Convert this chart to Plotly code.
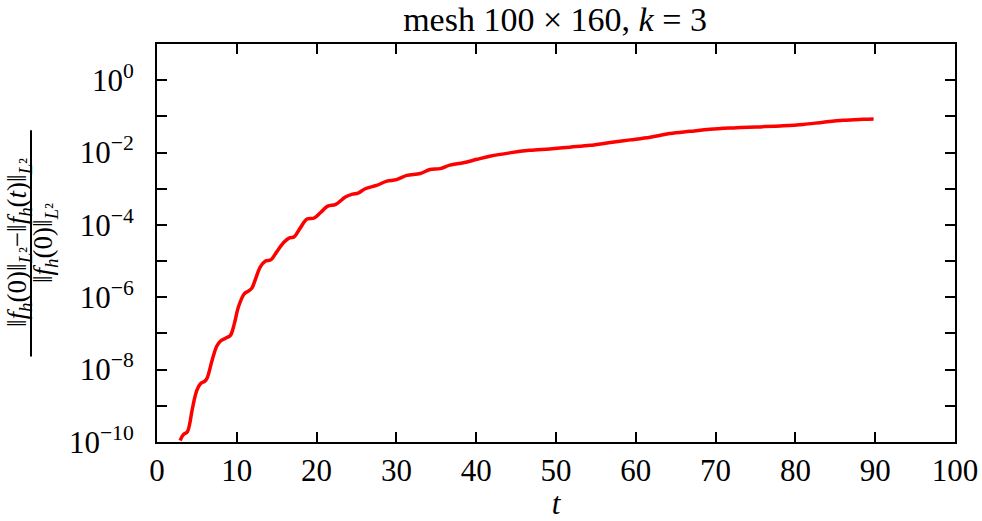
import plotly.graph_objects as go

# values
t = [2.9, 3.3, 3.8, 4.1, 4.4, 5.0, 5.5, 6.0, 6.3, 6.9, 7.5, 8.0, 8.6, 9.2, 9.7,
     10.2, 10.95, 11.5, 11.9, 12.3, 12.95, 13.6, 14.3, 15.0, 15.9, 16.6, 17.2,
     17.9, 18.8, 19.7, 20.5, 21.4, 22.4, 23.6, 24.5, 25.2, 26.1, 27.5, 28.8,
     30.0, 31.3, 33.0, 34.2, 35.5, 36.7, 38.4, 40.1, 41.7, 44.2, 46.7, 49.2,
     51.75, 54.3, 56.8, 59.3, 61.8, 64.3, 66.8, 69.3, 72.2, 75.1, 78.5, 81.0,
     83.5, 86.0, 88.5, 89.8]
rel_err = [1.1e-10, 1.6e-10, 1.9e-10, 3.2e-10, 7.6e-10, 2.7e-9, 4.2e-9, 4.8e-9,
           6.0e-9, 1.8e-8, 4.5e-8, 6.3e-8, 7.4e-8, 8.9e-8, 1.9e-7,
           5.4e-7, 1.26e-6, 1.5e-6, 1.8e-6, 3.0e-6, 6.9e-6, 1.0e-5, 1.1e-5,
           1.8e-5, 3.3e-5, 4.4e-5, 4.7e-5,
           7.9e-5, 1.45e-4, 1.55e-4, 2.2e-4, 3.3e-4, 3.7e-4, 5.9e-4, 7.1e-4,
           7.6e-4, 1.0e-3, 1.23e-3, 1.62e-3,
           1.78e-3, 2.34e-3, 2.63e-3, 3.4e-3, 3.6e-3, 4.5e-3, 5.2e-3, 6.5e-3,
           7.9e-3, 9.8e-3, 1.15e-2, 1.26e-2,
           1.41e-2, 1.58e-2, 1.9e-2, 2.24e-2, 2.66e-2, 3.35e-2, 3.85e-2, 4.4e-2,
           4.8e-2, 5.1e-2, 5.5e-2, 6.0e-2,
           6.9e-2, 7.8e-2, 8.3e-2, 8.5e-2]

x_ticks = [0, 10, 20, 30, 40, 50, 60, 70, 80, 90, 100]
y_exps = [-10, -9, -8, -7, -6, -5, -4, -3, -2, -1, 0, 1]
y_ticks = [10.0 ** e for e in y_exps]
y_labels = ['10<sup>−%d</sup>' % -e if e < 0 else '10<sup>%d</sup>' % e
            for e in y_exps]
y_labels = [lab if e % 2 == 0 and e <= 0 else '' for lab, e in zip(y_labels, y_exps)]

FONT = 'Liberation Serif'

fig = go.Figure()
fig.add_trace(go.Scatter(x=t, y=rel_err, mode='lines',
                         line=dict(color='#ff0000', width=3.5, shape='spline'),
                         showlegend=False))

axis_common = dict(showline=True, linecolor='black', linewidth=2,
                   mirror='ticks', ticks='inside', ticklen=10, tickwidth=2,
                   tickcolor='black', showgrid=False, zeroline=False,
                   automargin=False, ticklabeloverflow='allow',
                   tickfont=dict(family=FONT, size=31, color='black'))

fig.update_layout(
    width=982, height=521,
    margin=dict(l=157, r=27, t=44, b=79),
    paper_bgcolor='white', plot_bgcolor='white',
    font=dict(family=FONT, color='black'),
    title=dict(text='mesh 100 × 160, <i>k</i> = 3', x=0.5652, xanchor='center',
               y=0.963, yanchor='middle',
               font=dict(family=FONT, size=34, color='black')),
    xaxis=dict(range=[0, 100], tickvals=x_ticks, ticklabelstandoff=0,
               title=dict(text='<i>t</i>', font=dict(family=FONT, size=31), standoff=6),
               **axis_common),
    yaxis=dict(type='log', range=[-10, 1], tickvals=y_ticks, ticktext=y_labels,
               ticklabelstandoff=15,
               **axis_common),
)

# y axis label as a stacked fraction
num = ('‖<i>f</i><sub><i>h</i></sub>(0)‖<sub><i>L</i>²</sub>−'
       '‖<i>f</i><sub><i>h</i></sub>(<i>t</i>)‖<sub><i>L</i>²</sub>')
den = '‖<i>f</i><sub><i>h</i></sub>(0)‖<sub><i>L</i>²</sub>'
fig.add_annotation(text=num, xref='paper', yref='paper', x=0, y=0.5,
                   xanchor='center', yanchor='middle',
                   xshift=-138, textangle=-90, showarrow=False,
                   font=dict(family=FONT, size=27, color='black'))
fig.add_annotation(text=den, xref='paper', yref='paper', x=0, y=0.5,
                   xanchor='center', yanchor='middle',
                   xshift=-112, textangle=-90, showarrow=False,
                   font=dict(family=FONT, size=27, color='black'))
fig.add_shape(type='line', xref='paper', xsizemode='pixel', xanchor=0,
              x0=-126, x1=-126, yref='paper', y0=0.215, y1=0.783,
              line=dict(color='black', width=2))

# drop the default body margin so the figure sits at the window's corner
fig.write_html('out.html', config={'displayModeBar': False},
               post_script="document.body.style.margin='0';")
